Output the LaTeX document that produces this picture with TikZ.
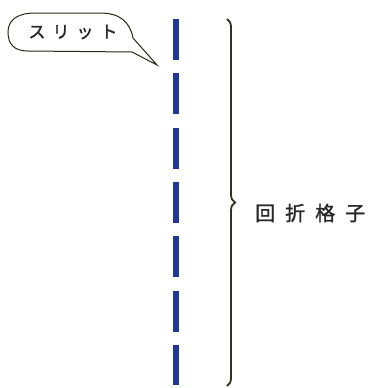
\documentclass[tikz,border=0pt]{standalone}
\usepackage{fontspec}
\newfontfamily\jpfont{Noto Sans CJK JP}[FakeBold=1.5]
\usetikzlibrary{decorations.pathreplacing}
\definecolor{slitblue}{RGB}{32,56,150}
\definecolor{braceol}{RGB}{50,50,28}
\definecolor{txt}{RGB}{40,40,40}
\tikzset{
  slit/.style={draw=slitblue, line width=5.5pt, dash pattern=on 41pt off 13.3pt},
  bracestyle/.style={draw=braceol, line width=1.8pt, decorate, decoration={brace, amplitude=8pt, aspect=0.5}},
  lbl/.style={font=\jpfont\fontsize{20}{20}\selectfont, text=txt, inner sep=0pt},
  balloon/.style={draw=braceol!80!black, line width=1pt, fill=white}
}
\begin{document}
\begin{tikzpicture}[x=1pt,y=-1pt]
\useasboundingbox (0,0) rectangle (372,388);
% slit
\coordinate (s1) at (176,19);
\coordinate (s2) at (176,385);
\draw[slit] (s1) -- (s2);
% brace
\coordinate (b1) at (227,19);
\coordinate (b2) at (227,386);
\draw[bracestyle] (b1) -- (b2);
\node[lbl, anchor=west] (grating) at (255,213) {回\hspace{10pt}折\hspace{10pt}格\hspace{10pt}子};
% balloon
\coordinate (tip) at (157,65);
\draw[balloon] (tip) -- (133,38)
  .. controls (130,22) and (120,13) .. (100,13)
  -- (35,13)
  .. controls (15,13) and (8,22) .. (8,32)
  .. controls (8,44) and (14,51) .. (28,51)
  -- (132,52) -- cycle;
\node[lbl, font=\jpfont\fontsize{17}{17}\selectfont] (slitlabel) at (73,32) {ス\hspace{7pt}リ\hspace{7pt}ッ\hspace{7pt}ト};
\end{tikzpicture}
\end{document}
